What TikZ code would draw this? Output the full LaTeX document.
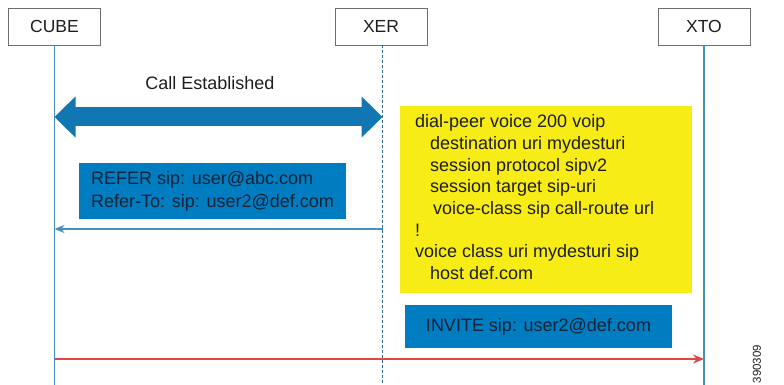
\documentclass[tikz,border=0pt]{standalone}
\usepackage{fontspec}
\setmainfont{Liberation Sans}
\usetikzlibrary{arrows.meta,calc}
\definecolor{lifeblue}{RGB}{70,145,185}
\definecolor{dashblue}{RGB}{45,105,150}
\definecolor{msgblue}{RGB}{0,124,192}
\definecolor{arrblue}{RGB}{18,118,178}
\definecolor{cfgyellow}{RGB}{248,236,22}
\definecolor{invred}{RGB}{222,72,72}
\definecolor{boxgray}{RGB}{110,110,110}
\definecolor{txt}{RGB}{30,30,30}
\definecolor{msgtxt}{RGB}{20,35,55}
\begin{document}
\begin{tikzpicture}[x=1pt,y=-1pt,
  actor/.style={draw=boxgray, line width=0.8pt, fill=white, minimum width=92pt,
    minimum height=37pt, inner sep=0pt, font=\fontsize{17.5}{20}\selectfont, text=txt},
  life/.style={draw=lifeblue, line width=1.3pt},
  lifedash/.style={draw=dashblue, line width=1pt, dash pattern=on 3pt off 2pt},
  msgbox/.style={fill=msgblue, inner sep=0pt, align=left, text=msgtxt,
    font=\fontsize{18}{23}\selectfont},
  msgarrow/.style={draw=lifeblue, line width=1.3pt, -{Stealth[length=10pt,width=8pt]}},
  redarrow/.style={draw=invred, line width=1.3pt, -{Stealth[length=11pt,width=9pt]}},
  bigarrow/.style={draw=arrblue, line width=19pt,
    {Triangle[length=21pt,width=40pt]}-{Triangle[length=21pt,width=40pt]}},
  lbl/.style={font=\fontsize{18}{21.7}\selectfont, text=txt, inner sep=0pt}
]
\useasboundingbox (0,0) rectangle (784,385);

% actors
\node[actor] (cube) at (54.5,26.5) {CUBE};
\node[actor] (xer) at (381,26.5) {XER};
\node[actor] (xto) at (704,26.5) {XTO};

% lifelines
\coordinate (cubeend) at (54.5,385);
\coordinate (xerend) at (382.5,385);
\coordinate (xtoend) at (704,385);
\draw[life] (cube.south) -- (cubeend);
\draw[lifedash] (xer.south -| xerend) -- (xerend);
\draw[life] (xto.south) -- (xtoend);

% call established
\coordinate (ceL) at (54.5,117);
\coordinate (ceR) at (382.5,117);
\draw[bigarrow] (ceL) -- (ceR);
\node[lbl] (celbl) at (210,83) {Call Established};

% REFER
\node[msgbox, minimum width=267pt, minimum height=56pt] (refer) at (212.5,191)
  {REFER sip: user@abc.com\\Refer-To: sip: user2@def.com};
\coordinate (refR) at (382.5,229);
\coordinate (refL) at (54.5,229);
\draw[msgarrow] (refR) -- (refL);

% config box
\node[fill=cfgyellow, minimum width=292pt, minimum height=187pt, inner sep=0pt] (cfg) at (546,199.5) {};
\node[lbl, align=left, anchor=north west] (cfgtxt) at (415,114.5)
  {dial-peer voice 200 voip\\
   \hspace*{15pt}destination uri mydesturi\\
   \hspace*{15pt}session protocol sipv2\\
   \hspace*{15pt}session target sip-uri\\
   \hspace*{18pt}voice-class sip call-route url\\
   !\\
   voice class uri mydesturi sip\\
   \hspace*{15pt}host def.com};

% INVITE
\node[msgbox, minimum width=267pt, minimum height=43pt] (invite) at (538.5,326.5)
  {INVITE sip: user2@def.com};
\coordinate (invL) at (54.5,359);
\coordinate (invR) at (704,359);
\draw[redarrow] (invL) -- (invR);

% figure number
\node[rotate=90, font=\fontsize{11.5}{12}\selectfont, text=txt, inner sep=0pt] (fignum) at (757,364) {390309};
\end{tikzpicture}
\end{document}
